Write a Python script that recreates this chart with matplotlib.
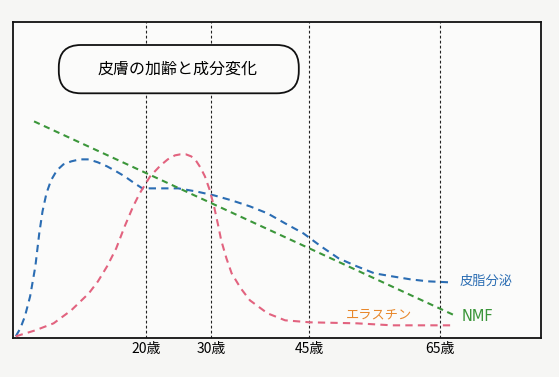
import matplotlib.pyplot as plt
from matplotlib.patches import FancyBboxPatch
from matplotlib.transforms import IdentityTransform

plt.rcParams['font.family'] = ['Noto Sans CJK JP', 'DejaVu Sans']

# ages (x) and relative level (y)
sebum_age = [0.0, 0.7, 1.4, 2.2, 3.0, 3.6, 4.1, 4.7, 5.4, 6.3, 7.3, 8.5, 9.8, 11.2, 12.6, 14.0, 15.4,
             16.7, 18.0, 19.4, 20.8, 22.2, 24.9, 27.6, 30.4, 33.1, 35.9, 38.6, 41.3, 44.1, 46.8,
             49.5, 52.3, 55.0, 57.7, 60.5, 63.2, 66.5]
sebum_val = [2, 10, 22, 42, 72, 105, 127, 145, 158, 168, 174, 177, 179, 179, 176, 172, 167,
             162, 156, 150, 150, 150, 150, 147, 143, 138, 132, 125, 115, 105, 92,
             80, 72, 65, 62, 59, 57, 56]

elastin_age = [0.0, 3.0, 5.8, 8.5, 11.2, 12.6, 14.0, 15.4, 16.7, 18.0, 19.0, 20.6, 22.2, 23.3, 24.4,
               25.2, 26.1, 26.9, 27.6, 28.3, 29.0, 29.7, 30.4, 31.0, 31.5, 32.3, 33.1, 34.5, 35.9,
               38.6, 41.3, 45.1, 52.3, 57.7, 66.8]
elastin_val = [2, 8, 15, 28, 45, 57, 72, 90, 112, 132, 145, 162, 173, 179, 183,
               184, 184, 182, 178, 171, 162, 149, 132, 114, 98, 80, 65, 50, 38,
               25, 18, 16, 15, 13, 13]

nmf_age = [2.8, 67.6]
nmf_val = [217, 22]

tick_ages = [20, 30, 45, 65]
tick_labels = ['20歳', '30歳', '45歳', '65歳']

blue = '#2b6db3'
pink = '#e2637f'
green = '#3b963a'

fig = plt.figure(figsize=(5.59, 3.77), dpi=100, facecolor='#f6f6f4')
ax = fig.add_axes([0.0224, 0.1026, 0.945, 0.8398])
ax.set_facecolor('#fbfbfa')

for a in tick_ages:
    ax.axvline(a, color='#222222', lw=0.8, ls=(0, (2.5, 2)), zorder=1)

ax.plot(sebum_age, sebum_val, color=blue, lw=1.5, ls=(0, (3.5, 2.5)), zorder=3)
ax.plot(elastin_age, elastin_val, color=pink, lw=1.5, ls=(0, (3.5, 2.5)), zorder=3)
ax.plot(nmf_age, nmf_val, color=green, lw=1.5, ls=(0, (3.0, 2.2)), zorder=3)

ax.text(68.1, 57, '皮脂分泌', color=blue, fontsize=9.5, ha='left', va='center')
ax.text(68.4, 22, 'NMF', color=green, fontsize=10.5, ha='left', va='center', family='DejaVu Sans')
ax.text(50.6, 23, 'エラスチン', color='#e8882c', fontsize=9.5, ha='left', va='center')

ax.set_xlim(-0.5, 80.5)
ax.set_ylim(0, 316.7)
ax.set_xticks(tick_ages)
ax.set_xticklabels(tick_labels, fontsize=10)
ax.tick_params(axis='x', length=0, pad=3)
ax.set_yticks([])
for s in ax.spines.values():
    s.set_linewidth(1.3)
    s.set_color('#111111')

# title box (pixel coordinates)
box = FancyBboxPatch((58.8, 283.7), 240, 48.3, boxstyle='round,pad=0,rounding_size=22',
                     transform=IdentityTransform(), facecolor='#fbfbfa', edgecolor='#111111',
                     lw=1.3, zorder=5)
fig.patches.append(box)
fig.text(178 / 559, 1 - 69 / 377, '皮膚の加齢と成分変化', fontsize=11.5, ha='center', va='center',
         zorder=6)

fig.savefig('out.png', dpi=100, facecolor=fig.get_facecolor())
